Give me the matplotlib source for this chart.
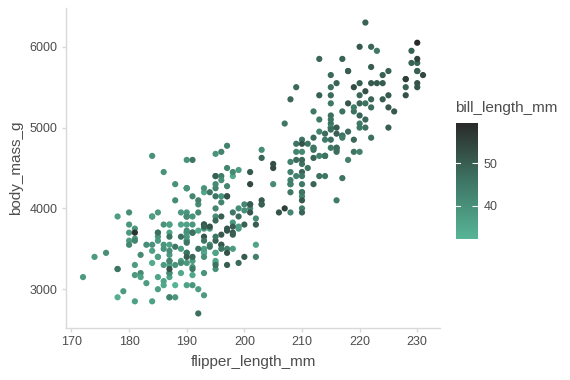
import matplotlib
matplotlib.use("Agg")
import matplotlib.pyplot as plt
import numpy as np
from matplotlib.colors import LinearSegmentedColormap

# ---- data: (bill_length_mm, flipper_length_mm, body_mass_g) ----
adelie_bill = [39.1,39.5,40.3,36.7,39.3,38.9,39.2,34.1,42.0,37.8,37.8,41.1,38.6,34.6,36.6,38.7,42.5,34.4,46.0,37.8,
               37.7,35.9,38.2,38.8,35.3,40.6,40.5,37.9,40.5,39.5,37.2,39.5,40.9,36.4,39.2,38.8,42.2,37.6,39.8,36.5,
               40.8,36.0,44.1,37.0,39.6,41.1,37.5,36.0,42.3,39.6,40.1,35.0,42.0,34.5,41.4,39.0,40.6,36.5,37.6,35.7,
               41.3,37.6,41.1,36.4,41.6,35.5,41.1,35.9,41.8,33.5,39.7,39.6,45.8,35.5,42.8,40.9,37.2,36.2,42.1,34.6,
               42.9,36.7,35.1,37.3,41.3,36.3,36.9,38.3,38.9,35.7,41.1,34.0,39.6,36.2,40.8,38.1,40.3,33.1,43.2,35.0,
               41.0,37.7,37.8,37.9,39.7,38.6,38.2,38.1,43.2,38.1,45.6,39.7,42.2,39.6,42.7,38.6,37.3,35.7,41.1,36.2,
               37.7,40.2,41.4,35.2,40.6,38.8,41.5,39.0,44.1,38.5,43.1,36.8,37.5,38.1,41.1,35.6,40.2,37.0,39.7,40.2,
               40.6,32.1,40.7,37.3,39.0,39.2,36.6,36.0,37.8,36.0,41.5]
adelie_flipper = [181,186,195,193,190,181,195,193,190,186,180,182,191,198,185,195,197,184,194,174,
                  180,189,185,180,187,183,187,172,180,178,178,188,184,195,196,190,180,181,184,182,
                  195,186,196,185,190,182,179,190,191,186,188,190,200,187,191,186,193,181,194,185,
                  195,185,192,184,192,195,188,190,198,190,190,196,197,190,195,191,184,187,195,189,
                  196,187,193,191,194,190,189,189,190,202,205,185,186,187,208,190,196,178,192,192,
                  203,183,190,193,184,199,190,181,197,198,191,193,197,191,196,188,199,189,189,187,
                  198,176,202,186,199,191,195,191,210,190,197,193,199,187,190,191,200,185,193,193,
                  187,188,190,192,185,190,184,195,193,187,201]
adelie_mass = [3750,3800,3250,3450,3650,3625,4675,3475,4250,3300,3700,3200,3800,4400,3700,3450,4500,3325,4200,3400,
               3600,3800,3950,3800,3800,3550,3200,3150,3950,3250,3900,3300,3900,3325,4150,3950,3550,3300,4650,3150,
               3900,3100,4400,3000,4600,3425,2975,3450,4150,3500,4300,3450,4050,2900,3700,3550,3800,2850,3750,3150,
               4400,3600,4050,2850,3950,3350,4100,3050,4450,3600,3900,3550,4150,3700,4250,3700,3900,3550,4000,3200,
               4700,3800,4200,3350,3550,3800,3500,3950,3600,3550,4300,3400,4450,3300,4300,3700,4350,2900,4100,3725,
               4725,3075,4250,2925,3550,3750,3900,3175,4775,3825,4600,3200,4275,3900,4075,2900,3775,3350,3325,3150,
               3500,3450,3875,3050,4000,3275,4300,3050,4000,3325,3500,3500,4475,3425,3900,3175,3975,3400,4250,3400,
               3475,3050,3725,3000,3650,4250,3475,3450,3750,3700,4000]

chinstrap_bill = [46.5,50.0,51.3,45.4,52.7,45.2,46.1,51.3,46.0,51.3,46.6,51.7,47.0,52.0,45.9,50.5,50.3,58.0,46.4,49.2,
                  42.4,48.5,43.2,50.6,46.7,52.0,50.5,49.5,46.4,52.8,40.9,54.2,42.5,51.0,49.7,47.5,47.6,52.0,46.9,53.5,
                  49.0,46.2,50.9,45.5,50.9,50.8,50.1,49.0,51.5,49.8,48.1,51.4,45.7,50.7,42.5,52.2,45.2,49.3,50.2,45.6,
                  51.9,46.8,45.7,55.8,43.5,49.6,50.8,50.2]
chinstrap_flipper = [192,196,193,188,197,198,178,197,195,198,193,194,185,201,190,201,197,181,190,195,
                     181,191,187,193,195,197,200,200,191,205,187,201,187,203,195,199,195,210,192,205,
                     210,187,196,196,196,201,190,212,187,198,199,201,193,203,187,197,191,203,202,194,
                     206,189,195,207,202,193,210,198]
chinstrap_mass = [3500,3900,3650,3525,3725,3950,3250,3750,4150,3700,3800,3775,3700,4050,3575,4050,3300,3700,3450,4400,
                  3600,3400,2900,3800,3300,4150,3400,3800,3700,4550,3200,4300,3350,4100,3600,3900,3850,4800,2700,4500,
                  3950,3650,3550,3500,3675,4450,3400,4300,3250,3675,3325,3950,3600,4050,3350,3450,3250,4050,3800,3525,
                  3950,3650,3650,4000,3400,3775,4100,3775]

gentoo_bill = [46.1,50.0,48.7,50.0,47.6,46.5,45.4,46.7,43.3,46.8,40.9,49.0,45.5,48.4,45.8,49.3,42.0,49.2,46.2,48.7,
               50.2,45.1,46.5,46.3,42.9,46.1,44.5,47.8,48.2,50.0,47.3,42.8,45.1,59.6,49.1,48.4,42.6,44.4,44.0,48.7,
               42.7,49.6,45.3,49.6,50.5,43.6,45.5,50.5,44.9,45.2,46.6,48.5,45.1,50.1,46.5,45.0,43.8,45.5,43.2,50.4,
               45.3,46.2,45.7,54.3,45.8,49.8,46.2,49.5,43.5,50.7,47.7,46.4,48.2,46.5,46.4,48.6,47.5,51.1,45.2,45.2,
               49.1,52.5,47.4,50.0,44.9,50.8,43.4,51.3,47.5,52.1,47.5,52.2,45.5,49.5,44.5,50.8,49.4,46.9,48.4,51.1,
               48.5,55.9,47.2,49.1,47.3,46.8,41.7,53.4,43.3,48.1,50.5,49.8,43.5,51.5,46.2,55.1,44.5,48.8,47.2,46.8,
               50.4,45.2,49.9]
gentoo_flipper = [211,230,210,218,215,210,211,219,209,215,214,216,214,213,210,217,210,221,209,222,
                  218,215,213,215,215,215,216,215,210,220,222,209,207,230,220,220,213,219,208,208,
                  208,225,210,216,222,217,210,225,213,215,210,220,210,225,217,220,208,220,208,224,
                  208,221,214,231,219,230,214,229,220,223,216,221,221,217,216,230,209,220,215,223,
                  212,221,212,224,212,228,218,218,212,230,218,228,212,224,214,226,216,222,203,225,
                  219,228,215,228,216,215,210,219,208,209,216,229,213,230,217,230,217,222,214,215,
                  222,212,213]
gentoo_mass = [4500,5700,4450,5700,5400,4550,4800,5200,4400,5150,4650,5550,4650,5850,4200,5850,4150,6300,4800,5350,
               5700,5000,4400,5050,5000,5100,4100,5650,4600,5550,5250,4700,5050,6050,5150,5400,4950,5250,4350,5350,
               3950,5700,4300,4750,5550,4900,4200,5400,5100,5300,4850,5300,4400,5000,4900,5050,4300,5000,4450,5550,
               4200,5300,4400,5650,4700,5700,4650,5800,4700,5550,4750,5000,5100,5200,4700,5800,4600,6000,4750,5950,
               4625,5450,4725,5350,4750,5600,4600,5300,4875,5550,4950,5400,4750,5650,4850,5200,4925,4875,4625,5250,
               4850,5600,4975,5500,4725,5500,4700,5500,4575,5500,5000,5950,4650,5500,4375,5850,4875,6000,4925,4850,
               5750,5200,5400]

bill_length_mm = adelie_bill + gentoo_bill + chinstrap_bill
flipper_length_mm = adelie_flipper + gentoo_flipper + chinstrap_flipper
body_mass_g = adelie_mass + gentoo_mass + chinstrap_mass

x_ticks = [170, 180, 190, 200, 210, 220, 230]
y_ticks = [3000, 4000, 5000, 6000]
cbar_ticks = [40, 50]

# ---- style ----
plt.rcParams['font.family'] = ['Liberation Sans', 'DejaVu Sans']
axis_grey = '#d9d9d9'
text_grey = '#4d4d4d'

cmap = LinearSegmentedColormap.from_list('tealdark', ['#57b596', '#3e7564', '#2a2a2a'])

fig = plt.figure(figsize=(5.7, 3.8), dpi=100)
ax = fig.add_axes([66/570, 52/380, (440-66)/570, (328-8)/380])

x = np.array(flipper_length_mm, dtype=float)
y = np.array(body_mass_g, dtype=float)
c = np.array(bill_length_mm, dtype=float)

sc = ax.scatter(x, y, c=c, cmap=cmap, vmin=c.min(), vmax=c.max(), s=20, linewidths=0)

xr = x.max() - x.min()
yr = y.max() - y.min()
ax.set_xlim(x.min() - 0.05 * xr, x.max() + 0.05 * xr)
ax.set_ylim(y.min() - 0.05 * yr, y.max() + 0.05 * yr)
ax.set_xticks(x_ticks)
ax.set_yticks(y_ticks)

for s in ['top', 'right']:
    ax.spines[s].set_visible(False)
for s in ['left', 'bottom']:
    ax.spines[s].set_color(axis_grey)
    ax.spines[s].set_linewidth(1.0)
ax.tick_params(axis='both', colors=axis_grey, labelcolor=text_grey, labelsize=9,
               length=3, width=1.0, pad=3)

ax.set_xlabel('flipper_length_mm', fontsize=11, color=text_grey, labelpad=5)
ax.set_ylabel('body_mass_g', fontsize=11, color=text_grey, labelpad=5)

# ---- colorbar ----
cax = fig.add_axes([456/570, (380-239)/380, 22/570, (239-123)/380])
cb = fig.colorbar(sc, cax=cax)
cb.outline.set_visible(False)
cb.set_ticks(cbar_ticks)
cax.tick_params(axis='y', colors='white', labelcolor=text_grey, labelsize=9,
                length=4, width=0.8, direction='in', pad=4)
for t in cbar_ticks:
    cax.plot([0, 0.18], [t, t], color='white', lw=0.8, transform=cax.get_yaxis_transform())
cax.set_title('bill_length_mm', fontsize=11, color=text_grey, loc='left', pad=8, x=-0.05)

fig.savefig('out.png', dpi=100)
